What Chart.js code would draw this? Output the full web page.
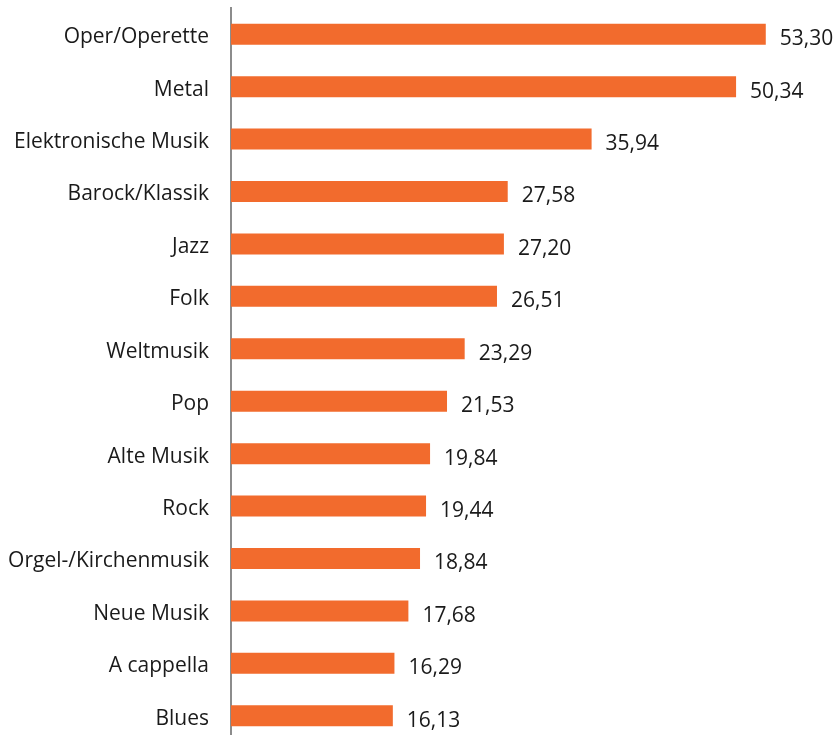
<!DOCTYPE html>
<html>
<head>
<meta charset="utf-8">
<script src="https://cdn.jsdelivr.net/npm/chart.js@4"></script>
<style>
  html, body { margin:0; padding:0; background:#fff; overflow:hidden; }
  canvas { display:block; }
</style>
</head>
<body>
<canvas id="chart" width="835" height="742"></canvas>
<script>
// Daten
const genres = ['Oper/Operette', 'Metal', 'Elektronische Musik', 'Barock/Klassik', 'Jazz', 'Folk', 'Weltmusik', 'Pop', 'Alte Musik', 'Rock', 'Orgel-/Kirchenmusik', 'Neue Musik', 'A cappella', 'Blues'];
const values = [53.30, 50.34, 35.94, 27.58, 27.20, 26.51, 23.29, 21.53, 19.84, 19.44, 18.84, 17.68, 16.29, 16.13];

const fontFamily = "'Open Sans', 'Noto Sans', sans-serif";

// Werte rechts neben den Balken
const valueLabels = {
  id: 'valueLabels',
  afterDatasetsDraw(chart){
    const ctx = chart.ctx;
    const meta = chart.getDatasetMeta(0);
    ctx.save();
    ctx.font = '21px ' + fontFamily;
    ctx.fillStyle = '#1a1a1a';
    ctx.textAlign = 'left';
    ctx.textBaseline = 'middle';
    meta.data.forEach((bar, i)=>{
      const txt = values[i].toFixed(2).replace('.', ',');
      ctx.fillText(txt, bar.x + 14, bar.y + 5);
    });
    ctx.restore();
  }
};

new Chart(document.getElementById('chart'), {
  type: 'bar',
  data: {
    labels: genres,
    datasets: [{
      data: values,
      backgroundColor: '#F26B2D',
      barPercentage: 0.8,
      categoryPercentage: 0.5
    }]
  },
  options: {
    indexAxis: 'y',
    responsive: false,
    animation: false,
    layout: { padding: { top: 8, right: 2, left: 0, bottom: 0 } },
    plugins: { legend: { display:false }, tooltip: { enabled:false } },
    scales: {
      x: {
        min: 0, max: 60,
        display: false
      },
      y: {
        grid: { display: false, drawTicks: false },
        border: { display: true, color: '#8c8c8c', width: 2 },
        ticks: {
          padding: 22,
          labelOffset: 3,
          color: '#1a1a1a',
          font: { family: fontFamily, size: 21 }
        },
        afterFit(scale){ scale.width = 231; scale.paddingTop = 0; scale.paddingBottom = 0; }
      }
    }
  },
  plugins: [valueLabels]
});
</script>
</body>
</html>
